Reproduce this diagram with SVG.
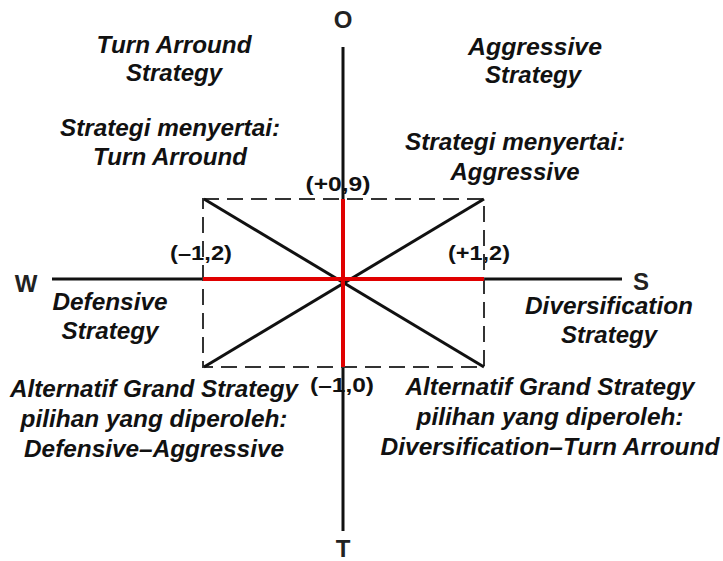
<svg xmlns="http://www.w3.org/2000/svg" width="723" height="561" viewBox="0 0 723 561">
<style>
.q{font-family:"Liberation Sans",Arial,sans-serif;font-weight:bold;font-style:italic;font-size:23px;fill:#111;text-anchor:middle}
.c{font-family:"Liberation Sans",Arial,sans-serif;font-weight:bold;font-size:20px;fill:#111;text-anchor:middle}
.ax{font-family:"Liberation Sans",Arial,sans-serif;font-weight:bold;font-size:24px;fill:#222;text-anchor:middle}
.axis{stroke:#111;stroke-width:3;fill:none}
.red{stroke:#e00000;stroke-width:4;fill:none}
.diag{stroke:#111;stroke-width:3;fill:none}
.dash{stroke:#333;stroke-width:2;fill:none;stroke-dasharray:16 8}
</style>
<rect width="723" height="561" fill="#fff"/>
<g id="axis-labels">
<text class="ax" x="343" y="28">O</text>
<text class="ax" x="26" y="292">W</text>
<text class="ax" x="641" y="290">S</text>
<text class="ax" x="343" y="557">T</text>
</g>
<g id="q-turnaround">
<text class="q" x="174" y="53" textLength="155" lengthAdjust="spacingAndGlyphs">Turn Arround</text>
<text class="q" x="174" y="81" textLength="96" lengthAdjust="spacingAndGlyphs">Strategy</text>
<text class="q" x="170" y="136" textLength="220" lengthAdjust="spacingAndGlyphs">Strategi menyertai:</text>
<text class="q" x="170" y="165" textLength="154" lengthAdjust="spacingAndGlyphs">Turn Arround</text>
</g>
<g id="q-aggressive">
<text class="q" x="535" y="55" textLength="134" lengthAdjust="spacingAndGlyphs">Aggressive</text>
<text class="q" x="533" y="83" textLength="96" lengthAdjust="spacingAndGlyphs">Strategy</text>
<text class="q" x="515" y="150" textLength="220" lengthAdjust="spacingAndGlyphs">Strategi menyertai:</text>
<text class="q" x="515" y="180" textLength="129" lengthAdjust="spacingAndGlyphs">Aggressive</text>
</g>
<g id="q-defensive">
<text class="q" x="110" y="310" textLength="115" lengthAdjust="spacingAndGlyphs">Defensive</text>
<text class="q" x="110" y="339" textLength="97" lengthAdjust="spacingAndGlyphs">Strategy</text>
</g>
<g id="q-diversification">
<text class="q" x="609" y="314" textLength="168" lengthAdjust="spacingAndGlyphs">Diversification</text>
<text class="q" x="609" y="343" textLength="96" lengthAdjust="spacingAndGlyphs">Strategy</text>
</g>
<g id="alt-left">
<text class="q" x="154" y="397" textLength="288" lengthAdjust="spacingAndGlyphs">Alternatif Grand Strategy</text>
<text class="q" x="154" y="427" textLength="267" lengthAdjust="spacingAndGlyphs">pilihan yang diperoleh:</text>
<text class="q" x="154" y="457" textLength="260" lengthAdjust="spacingAndGlyphs">Defensive–Aggressive</text>
</g>
<g id="alt-right">
<text class="q" x="550" y="395" textLength="289" lengthAdjust="spacingAndGlyphs">Alternatif Grand Strategy</text>
<text class="q" x="550" y="425" textLength="267" lengthAdjust="spacingAndGlyphs">pilihan yang diperoleh:</text>
<text class="q" x="550" y="455" textLength="339" lengthAdjust="spacingAndGlyphs">Diversification–Turn Arround</text>
</g>
<g id="coords">
<text class="c" x="338" y="191" textLength="65" lengthAdjust="spacingAndGlyphs">(+0,9)</text>
<text class="c" x="201" y="260" textLength="62" lengthAdjust="spacingAndGlyphs">(–1,2)</text>
<text class="c" x="479" y="260" textLength="62" lengthAdjust="spacingAndGlyphs">(+1,2)</text>
<text class="c" x="342" y="392" textLength="64" lengthAdjust="spacingAndGlyphs">(–1,0)</text>
</g>
<g id="connectors">
<line class="axis" x1="343" y1="47" x2="343" y2="531"/>
<line class="axis" x1="52" y1="279" x2="622" y2="279"/>
<rect class="dash" x="203" y="199" width="281" height="168"/>
<line class="diag" x1="204" y1="199" x2="484" y2="367"/>
<line class="diag" x1="484" y1="199" x2="204" y2="367"/>
<line class="red" x1="343" y1="199" x2="343" y2="367"/>
<line class="red" x1="203" y1="279" x2="484" y2="279"/>
</g>
</svg>
